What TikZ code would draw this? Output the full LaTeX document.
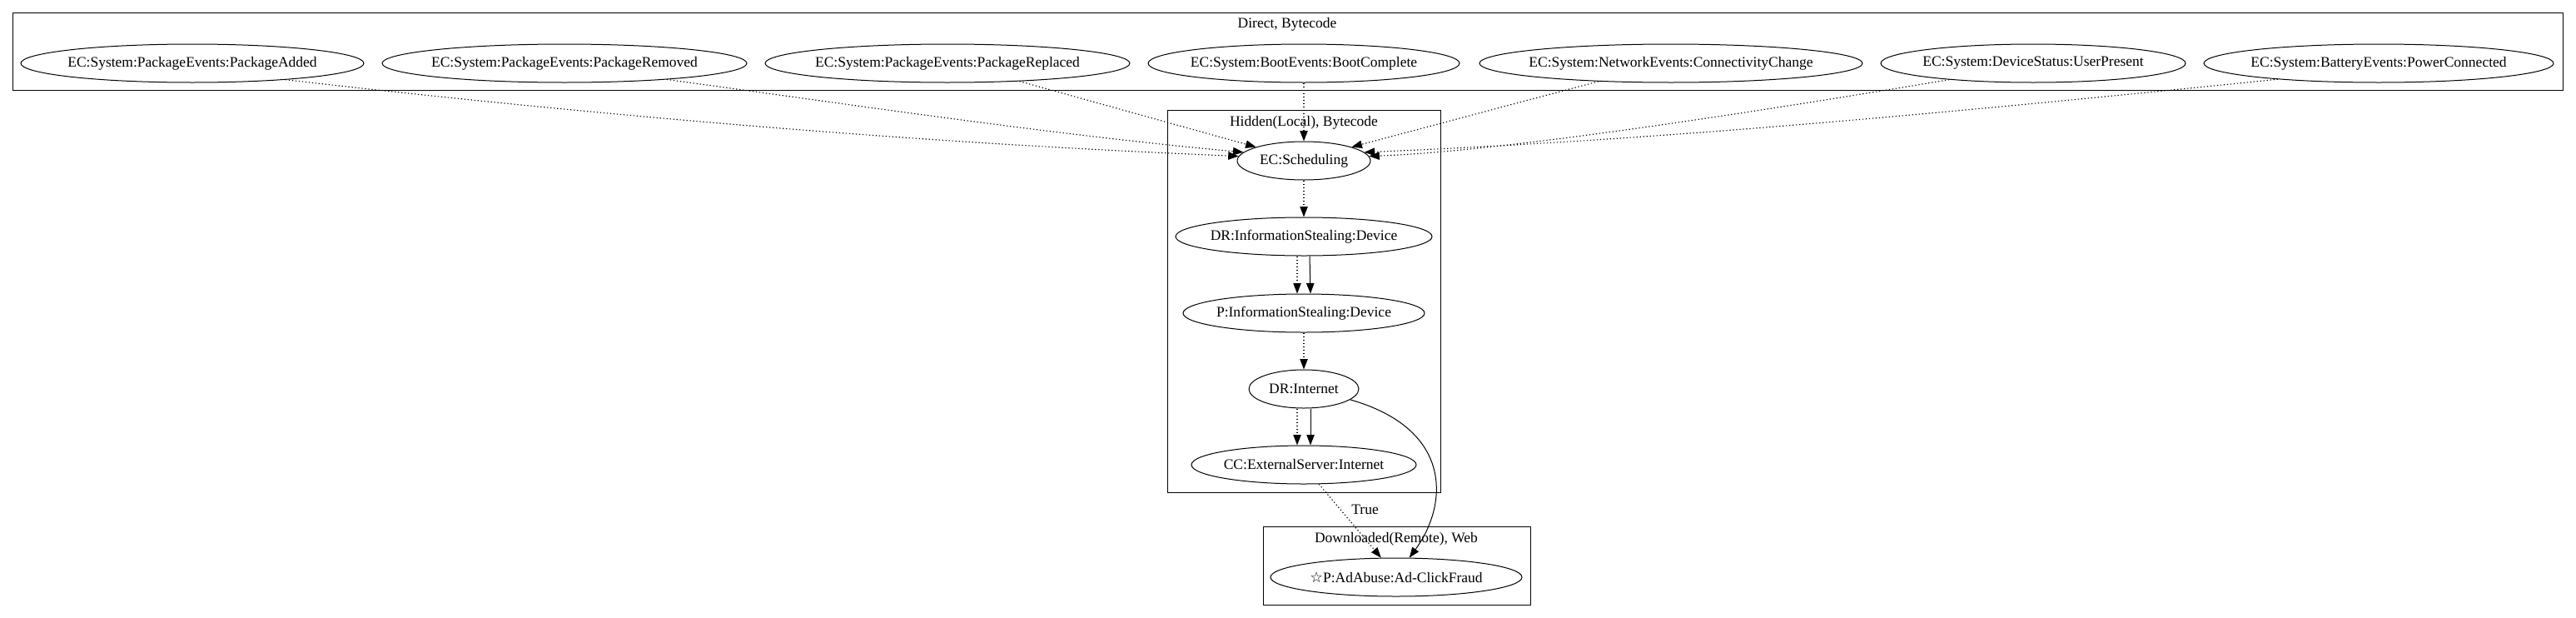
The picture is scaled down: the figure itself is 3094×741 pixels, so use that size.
\documentclass[tikz,border=0pt]{standalone}
\usepackage{fontspec}
\setmainfont{Liberation Serif}
\newfontfamily\starfont{DejaVu Sans}
\usetikzlibrary{arrows.meta,shapes.geometric}
\newcommand\zw[1]{\makebox[0pt]{#1}}
\begin{document}
\begin{tikzpicture}[x=0.8pt,y=-0.8pt,
  every node/.style={font=\fontsize{14pt}{16pt}\selectfont},
  ev/.style={ellipse, draw, line width=0.8pt, inner sep=0pt, minimum height=36.8pt},
  cl/.style={draw, line width=0.8pt},
  cllabel/.style={anchor=base, inner sep=0pt},
  dotedge/.style={line width=0.9pt, dash pattern=on 1pt off 2.2pt, -{Triangle[length=10pt,width=7.5pt]}},
  soledge/.style={line width=0.8pt, -{Triangle[length=10pt,width=7.5pt]}},
  elabel/.style={anchor=base west, inner sep=0pt, xshift=6.4pt}
]
\useasboundingbox (0,0) rectangle (3094,741);
% clusters
\draw[cl] (15,15) rectangle (3078,108);
\node[cllabel] (lab1) at (1546,33) {Direct, Bytecode};
\draw[cl] (1402,132) rectangle (1730,591);
\node[cllabel] (lab2) at (1566,151) {Hidden(Local), Bytecode};
\draw[cl] (1517,632) rectangle (1838,726);
\node[cllabel] (lab3) at (1677,651) {Downloaded(Remote), Web};
% top nodes
\node[ev, minimum width=329.6pt] (n1) at (231,76) {\zw{EC:System:PackageEvents:PackageAdded}};
\node[ev, minimum width=350.4pt] (n2) at (678,76) {\zw{EC:System:PackageEvents:PackageRemoved}};
\node[ev, minimum width=350.4pt] (n3) at (1138,76) {\zw{EC:System:PackageEvents:PackageReplaced}};
\node[ev, minimum width=299.2pt] (n4) at (1566,76) {\zw{EC:System:BootEvents:BootComplete}};
\node[ev, minimum width=368pt] (n5) at (2007,76) {\zw{EC:System:NetworkEvents:ConnectivityChange}};
\node[ev, minimum width=292.8pt] (n6) at (2442,76) {\zw{EC:System:DeviceStatus:UserPresent}};
\node[ev, minimum width=336pt] (n7) at (2857,76) {\zw{EC:System:BatteryEvents:PowerConnected}};
% hidden nodes
\node[ev, minimum width=128pt] (sched) at (1566,193) {\zw{EC:Scheduling}};
\node[ev, minimum width=246.4pt] (drinfo) at (1566,284) {\zw{DR:InformationStealing:Device}};
\node[ev, minimum width=232pt] (pinfo) at (1566,376) {\zw{P:InformationStealing:Device}};
\node[ev, minimum width=105.6pt] (drint) at (1566,467) {\zw{DR:Internet}};
\node[ev, minimum width=216pt] (cc) at (1566,558) {\zw{CC:ExternalServer:Internet}};
% downloaded node
\node[ev, minimum width=241.6pt] (ad) at (1677,693) {\zw{{\starfont ☆}P:AdAbuse:Ad-ClickFraud}};
% edges from top cluster
\draw[dotedge] (n1.-10) .. controls (730,140) and (1110,172) .. (sched.176);
\draw[dotedge] (n2.-9) .. controls (1040,128) and (1267,162) .. (sched.172);
\draw[dotedge] (n3.-14) -- (sched.164);
\draw[dotedge] (n4) -- (sched);
\draw[dotedge] (n5.-166) -- (sched.16);
\draw[dotedge] (n6.-169) .. controls (2100,136) and (1800,182) .. (sched.4);
\draw[dotedge] (n7.-171) .. controls (2354,134) and (2000,168) .. (sched.8);
% hidden cluster edges
\draw[dotedge] (sched) -- (drinfo);
\draw[dotedge] ([xshift=-6.4pt]drinfo.south) -- ([xshift=-6.4pt]pinfo.north);
\draw[soledge] ([xshift=5.6pt]drinfo.south) -- ([xshift=6.4pt]pinfo.north);
\draw[dotedge] (pinfo) -- (drint);
\draw[dotedge] ([xshift=-6.4pt]drint.south) -- ([xshift=-6.4pt]cc.north);
\draw[soledge] ([xshift=6.4pt]drint.south) -- ([xshift=6.4pt]cc.north);
% to downloaded
\draw[dotedge] (cc.-52) -- node[elabel, pos=0.41] (truelab) {True} (ad.128);
\draw[soledge] (drint.-13) .. controls (1745,515) and (1740,605) .. (ad.56);
\end{tikzpicture}
\end{document}
